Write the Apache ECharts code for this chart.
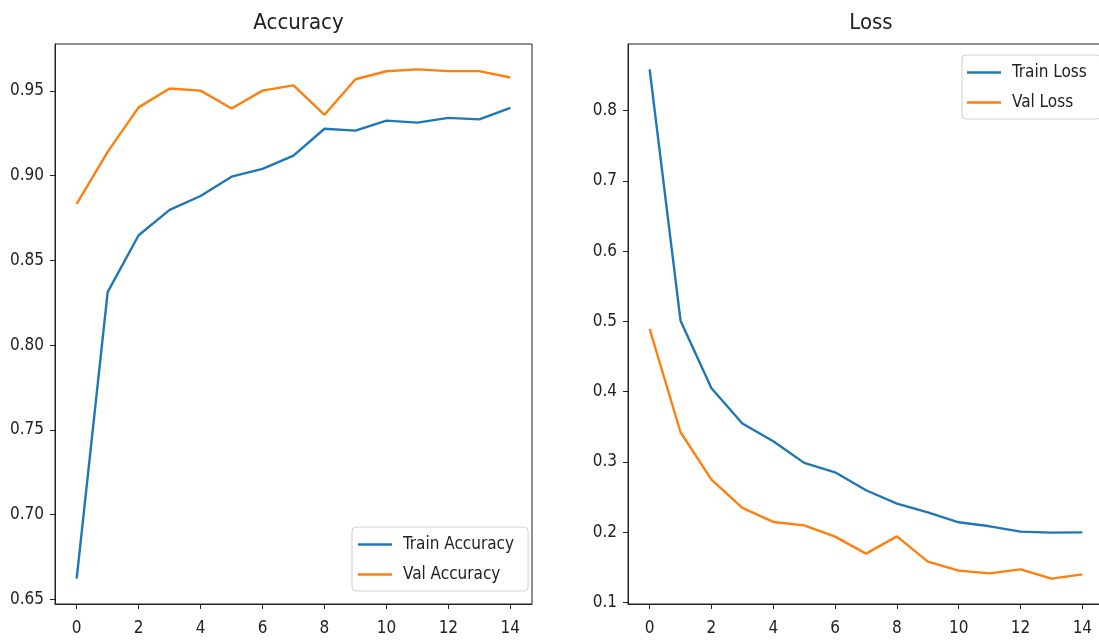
<!DOCTYPE html>
<html>
<head>
<meta charset="utf-8">
<script src="https://cdn.jsdelivr.net/npm/echarts@6/dist/echarts.min.js"></script>
<style>
html,body{margin:0;padding:0;background:#fff;}
#chart{width:1099px;height:640px;}
</style>
</head>
<body>
<div id="chart"></div>
<script>
const epochs = [0,1,2,3,4,5,6,7,8,9,10,11,12,13,14];
const trainAccuracy = [0.6622,0.8313,0.8648,0.8798,0.8880,0.8994,0.9040,0.9118,0.9277,0.9266,0.9325,0.9313,0.9341,0.9332,0.9400];
const valAccuracy   = [0.8834,0.9140,0.9403,0.9514,0.9502,0.9396,0.9502,0.9533,0.9359,0.9569,0.9616,0.9627,0.9617,0.9617,0.9579];
const trainLoss = [0.8587,0.5010,0.4049,0.3546,0.3293,0.2986,0.2852,0.2596,0.2406,0.2282,0.2140,0.2083,0.2007,0.1993,0.1997];
const valLoss   = [0.4892,0.3422,0.2748,0.2345,0.2145,0.2097,0.1936,0.1694,0.1940,0.1580,0.1452,0.1413,0.1470,0.1339,0.1399];
const xTicks = [0,2,4,6,8,10,12,14];
const accTicks = [0.65,0.70,0.75,0.80,0.85,0.90,0.95];
const lossTicks = [0.1,0.2,0.3,0.4,0.5,0.6,0.7,0.8];
const titles = ['Accuracy','Loss'];
const seriesNames = ['Train Accuracy','Val Accuracy','Train Loss','Val Loss'];

const FONT = 'DejaVu Sans Condensed, DejaVu Sans, sans-serif';
const BLUE = '#1f77b4', ORANGE = '#ff7f0e', INK = '#222';
const pairs = (ys) => epochs.map((e, i) => [e, ys[i]]);

function xAxisCfg(gi) {
  return {
    type: 'value', gridIndex: gi, min: -0.7, max: 14.7,
    splitLine: {show: false},
    axisLine: {show: true, onZero: false, lineStyle: {color: INK, width: 1}},
    axisTick: {show: true, length: 5, lineStyle: {color: INK}, customValues: xTicks},
    axisLabel: {customValues: xTicks, color: INK, fontFamily: FONT, fontSize: 17, margin: 16}
  };
}
function yAxisCfg(gi, min, max, ticks, dec) {
  return {
    type: 'value', gridIndex: gi, min: min, max: max,
    splitLine: {show: false},
    axisLine: {show: true, onZero: false, lineStyle: {color: INK, width: 1}},
    axisTick: {show: true, length: 5, lineStyle: {color: INK}, customValues: ticks},
    axisLabel: {customValues: ticks, color: INK, fontFamily: FONT, fontSize: 17, margin: 11,
      formatter: v => Number(v).toFixed(dec)}
  };
}
function lineSeries(name, data, color, xi) {
  return {
    type: 'line', name: name, data: pairs(data), xAxisIndex: xi, yAxisIndex: xi,
    showSymbol: false, symbol: 'none', lineStyle: {color: color, width: 2.4}, itemStyle: {color: color},
    animation: false
  };
}
const legendBase = {
  orient: 'vertical', icon: 'rect', itemWidth: 34, itemHeight: 2.5, itemGap: 11,
  backgroundColor: 'rgba(255,255,255,0.8)', borderColor: '#d0d0d0', borderWidth: 1, borderRadius: 4,
  textStyle: {color: INK, fontFamily: FONT, fontSize: 17, lineHeight: 19, padding: [0,0,0,6]}
};

const chart = echarts.init(document.getElementById('chart'), null, {renderer: 'canvas'});
chart.setOption({
  backgroundColor: '#fff',
  animation: false,
  title: [
    {text: titles[0], left: 293.5, top: 7, textAlign: 'center',
     textStyle: {fontFamily: FONT, fontSize: 22, fontWeight: 'normal', color: INK}},
    {text: titles[1], left: 866, top: 7, textAlign: 'center',
     textStyle: {fontFamily: FONT, fontSize: 22, fontWeight: 'normal', color: INK}}
  ],
  grid: [
    {left: 55, top: 44, width: 477, height: 560, show: true, borderColor: INK, borderWidth: 1,
     backgroundColor: 'transparent', outerBoundsMode: 'none', containLabel: false},
    {left: 628, top: 44, width: 476, height: 560, show: true, borderColor: INK, borderWidth: 1,
     backgroundColor: 'transparent', outerBoundsMode: 'none', containLabel: false}
  ],
  xAxis: [xAxisCfg(0), xAxisCfg(1)],
  yAxis: [
    yAxisCfg(0, 0.6472, 0.9777, accTicks, 2),
    yAxisCfg(1, 0.0977, 0.8949, lossTicks, 1)
  ],
  legend: [
    Object.assign({}, legendBase, {data: [seriesNames[0], seriesNames[1]], left: 352, top: 527, padding: [8,14,7,6]}),
    Object.assign({}, legendBase, {data: [seriesNames[2], seriesNames[3]], left: 962, top: 55, padding: [8,14,7,5]})
  ],
  series: [
    lineSeries(seriesNames[0], trainAccuracy, BLUE, 0),
    lineSeries(seriesNames[1], valAccuracy, ORANGE, 0),
    lineSeries(seriesNames[2], trainLoss, BLUE, 1),
    lineSeries(seriesNames[3], valLoss, ORANGE, 1)
  ]
});
</script>
</body>
</html>
